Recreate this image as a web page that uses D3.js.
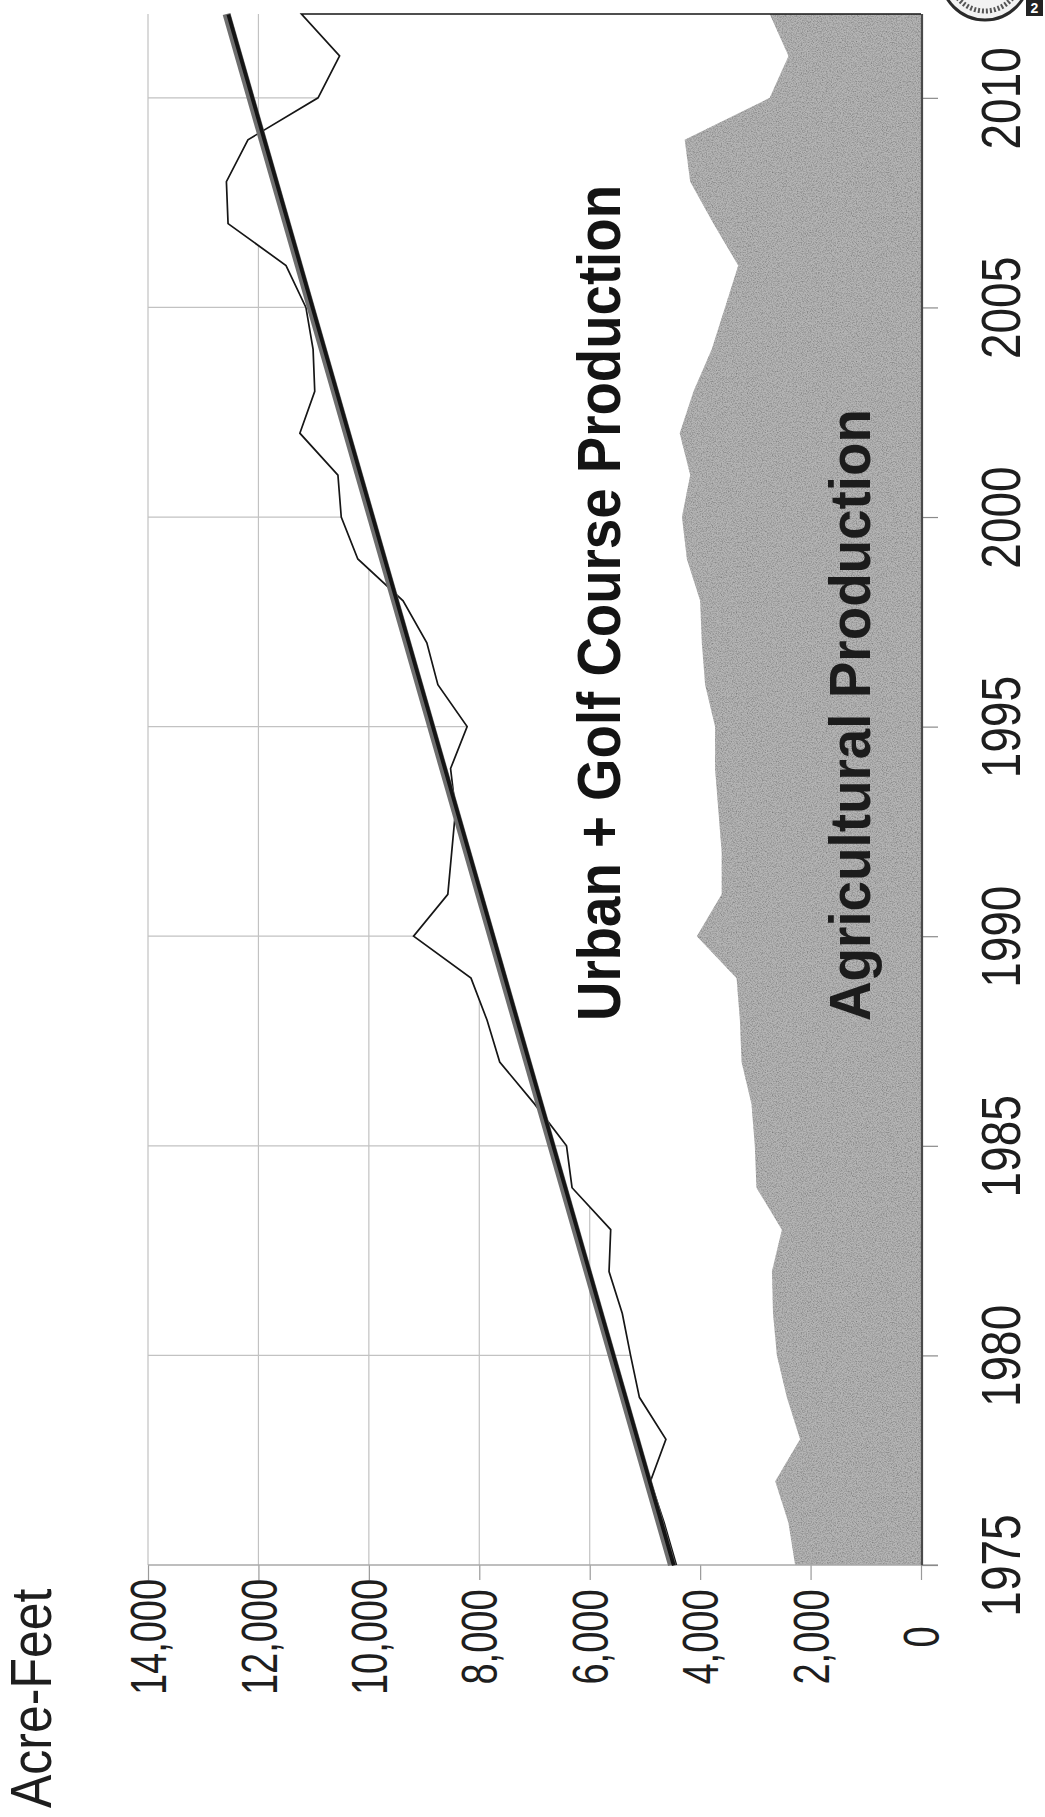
<!DOCTYPE html>
<html>
<head>
<meta charset="utf-8">
<script src="https://cdn.jsdelivr.net/npm/d3@7/dist/d3.min.js"></script>
<style>
  html, body { margin: 0; padding: 0; background: #ffffff; }
  svg { display: block; }
</style>
</head>
<body>
<div id="chart"></div>
<script>
// Annual water production, acre-feet (chart is laid out sideways: years run bottom to top)
const years = [1975, 1976, 1977, 1978, 1979, 1980, 1981, 1982, 1983, 1984,
               1985, 1986, 1987, 1988, 1989, 1990, 1991, 1992, 1993, 1994,
               1995, 1996, 1997, 1998, 1999, 2000, 2001, 2002, 2003, 2004,
               2005, 2006, 2007, 2008, 2009, 2010, 2011, 2012];

// Total production (agricultural + urban + golf course)
const totalProduction = [4430, 4650, 4900, 4620, 5100, 5260, 5410, 5650, 5620, 6320,
                         6420, 7000, 7630, 7860, 8150, 9190, 8570, 8500, 8430, 8520,
                         8220, 8750, 8950, 9380, 10200, 10500, 10560, 11250, 10980, 11010,
                         11140, 11500, 12550, 12580, 12190, 10920, 10530, 11220];

// Agricultural production
const agProduction = [2280, 2400, 2640, 2190, 2430, 2610, 2680, 2700, 2520, 2980,
                      3010, 3070, 3250, 3280, 3340, 4060, 3610, 3610, 3670, 3730,
                      3730, 3910, 3970, 4000, 4240, 4330, 4180, 4370, 4120, 3790,
                      3550, 3310, 3760, 4180, 4280, 2740, 2400, 2740];

const valueTicks = [0, 2000, 4000, 6000, 8000, 10000, 12000, 14000];
const yearTicks = [1975, 1980, 1985, 1990, 1995, 2000, 2005, 2010];

const urbanLabel = "Urban + Golf Course Production";
const agLabel = "Agricultural Production";
const unitLabel = "Acre-Feet";

const W = 1045, H = 1817;
const FONT = "'Liberation Sans', Arial, Helvetica, sans-serif";

const svg = d3.select("#chart").append("svg")
  .attr("width", W).attr("height", H)
  .attr("viewBox", `0 0 ${W} ${H}`);

svg.append("rect").attr("width", W).attr("height", H).attr("fill", "#ffffff");

// speckled grain for the agricultural band
const defs = svg.append("defs");
const grain = defs.append("filter").attr("id", "grain")
  .attr("x", 0).attr("y", 0).attr("width", "100%").attr("height", "100%");
grain.append("feTurbulence").attr("type", "fractalNoise")
  .attr("baseFrequency", 0.8).attr("numOctaves", 2).attr("seed", 7).attr("result", "noise");
grain.append("feColorMatrix").attr("in", "noise").attr("type", "matrix")
  .attr("values", "0 0 0 0 0  0 0 0 0 0  0 0 0 0 0  1.1 0 0 0 -0.42").attr("result", "specks");
grain.append("feComposite").attr("in", "specks").attr("in2", "SourceGraphic")
  .attr("operator", "in").attr("result", "specksIn");
const merge = grain.append("feMerge");
merge.append("feMergeNode").attr("in", "SourceGraphic");
merge.append("feMergeNode").attr("in", "specksIn");

// Scales: year -> vertical position, acre-feet -> horizontal position (0 at right)
const yr = d3.scaleLinear().domain([1975, 2012]).range([1565, 14]);
const af = d3.scaleLinear().domain([0, 14000]).range([921, 148]);

const rows = years.map((y, i) => ({ year: y, total: totalProduction[i], ag: agProduction[i] }));

// Gridlines
const grid = svg.append("g").attr("stroke", "#c2c2c2").attr("stroke-width", 1.2);
grid.selectAll("line.v").data(valueTicks.filter(v => v > 0)).join("line")
  .attr("x1", d => af(d)).attr("x2", d => af(d))
  .attr("y1", yr(2012)).attr("y2", yr(1975));
grid.selectAll("line.h").data(yearTicks.filter(v => v > 1975)).join("line")
  .attr("x1", af(14000)).attr("x2", af(0))
  .attr("y1", d => yr(d)).attr("y2", d => yr(d));

// Total production area (white, hides gridlines behind it)
const totalArea = d3.area()
  .y(d => yr(d.year)).x0(af(0)).x1(d => af(d.total));
svg.append("path").datum(rows).attr("d", totalArea).attr("fill", "#ffffff");

// Agricultural production area
const agArea = d3.area()
  .y(d => yr(d.year)).x0(af(0)).x1(d => af(d.ag));
svg.append("path").datum(rows).attr("d", agArea)
  .attr("fill", "#b5b5b5").attr("filter", "url(#grain)");

// Value axis (bottom)
const vStretch = 1.3;
const xAxis = svg.append("g").attr("transform", `translate(0,${yr(1975)})`)
  .call(d3.axisBottom(af).tickValues(valueTicks).tickSize(15).tickSizeOuter(0)
    .tickFormat(d3.format(",")));
xAxis.select(".domain").remove();
xAxis.selectAll(".tick line").attr("stroke", "#9a9a9a").attr("stroke-width", 1.2);
xAxis.selectAll(".tick text")
  .attr("transform", `rotate(-90) scale(1,${vStretch})`)
  .attr("x", -72).attr("y", 17.7 / vStretch).attr("dy", 0)
  .attr("text-anchor", "middle")
  .attr("fill", "#1e1e1e")
  .style("font-family", FONT).style("font-size", "38px");

svg.append("line")
  .attr("x1", af(14000)).attr("x2", af(0) + 17)
  .attr("y1", yr(1975)).attr("y2", yr(1975))
  .attr("stroke", "#a8a8a8").attr("stroke-width", 1.5);

// Year axis (right)
const yStretch = 1.22;
const yAxis = svg.append("g").attr("transform", `translate(${af(0)},0)`)
  .call(d3.axisRight(yr).tickValues(yearTicks).tickSize(17).tickSizeOuter(0)
    .tickFormat(d3.format("d")));
yAxis.select(".domain").remove();
yAxis.selectAll(".tick line").attr("stroke", "#8a8a8a").attr("stroke-width", 1.2);
yAxis.selectAll(".tick text")
  .attr("transform", `rotate(-90) scale(1,${yStretch})`)
  .attr("x", 0).attr("y", 99 / yStretch).attr("dy", 0)
  .attr("text-anchor", "middle")
  .attr("fill", "#1e1e1e")
  .style("font-family", FONT).style("font-size", "46px");

svg.append("line")
  .attr("x1", af(0) + 1).attr("x2", af(0) + 1)
  .attr("y1", yr(2012)).attr("y2", yr(1975))
  .attr("stroke", "#4a4a4a").attr("stroke-width", 2.2);

// Outline of total production, closed back to zero at the last year
const outline = rows.map(d => ({ year: d.year, v: d.total }))
  .concat([{ year: years[years.length - 1], v: 0 }]);
svg.append("path").datum(outline)
  .attr("d", d3.line().y(d => yr(d.year)).x(d => af(d.v)))
  .attr("fill", "none").attr("stroke", "#161616").attr("stroke-width", 1.7)
  .attr("stroke-linejoin", "miter");

// Linear trend of total production (least squares)
const n = years.length;
const mx = d3.mean(years), my = d3.mean(totalProduction);
const sxy = d3.sum(years, (y, i) => (y - mx) * (totalProduction[i] - my));
const sxx = d3.sum(years, y => (y - mx) * (y - mx));
const slope = sxy / sxx, intercept = my - slope * mx;
const trend = [years[0], years[n - 1]].map(y => ({ year: y, v: intercept + slope * y }));
const trendLine = d3.line().y(d => yr(d.year)).x(d => af(d.v));
svg.append("path").datum(trend).attr("d", trendLine)
  .attr("fill", "none").attr("stroke", "#6e6e6e").attr("stroke-width", 8)
  .attr("stroke-linecap", "butt");
svg.append("path").datum(trend).attr("d", trendLine)
  .attr("transform", "translate(1.8,0.5)")
  .attr("fill", "none").attr("stroke", "#141414").attr("stroke-width", 3.8)
  .attr("stroke-linecap", "butt");

// Series labels
svg.append("text")
  .attr("transform", `translate(620,1021) rotate(-90)`)
  .attr("text-anchor", "start")
  .attr("textLength", 836).attr("lengthAdjust", "spacingAndGlyphs")
  .attr("fill", "#141414")
  .style("font-family", FONT).style("font-weight", "bold").style("font-size", "62px")
  .text(urbanLabel);

svg.append("text")
  .attr("transform", `translate(870,1021) rotate(-90)`)
  .attr("text-anchor", "start")
  .attr("textLength", 612).attr("lengthAdjust", "spacingAndGlyphs")
  .attr("fill", "#1c1c1c")
  .style("font-family", FONT).style("font-weight", "bold").style("font-size", "58px")
  .text(agLabel);

// Unit label
svg.append("text")
  .attr("transform", `translate(51,1808) rotate(-90) scale(1,1.15)`)
  .attr("text-anchor", "start")
  .attr("fill", "#1e1e1e")
  .style("font-family", FONT).style("font-size", "50px")
  .text(unitLabel);

// Corner seal
const seal = svg.append("g");
seal.append("circle").attr("cx", 985).attr("cy", -24).attr("r", 44)
  .attr("fill", "#f2f2f2").attr("stroke", "#2a2a2a").attr("stroke-width", 3);
seal.append("circle").attr("cx", 985).attr("cy", -24).attr("r", 35)
  .attr("fill", "none").attr("stroke", "#555").attr("stroke-width", 5)
  .attr("stroke-dasharray", "2 2");
seal.append("rect").attr("x", 1026).attr("y", 0).attr("width", 17).attr("height", 16)
  .attr("fill", "#222");
seal.append("text").attr("x", 1034.5).attr("y", 13).attr("text-anchor", "middle")
  .attr("fill", "#fff").style("font-family", FONT).style("font-weight", "bold")
  .style("font-size", "14px").text("2");
</script>
</body>
</html>
